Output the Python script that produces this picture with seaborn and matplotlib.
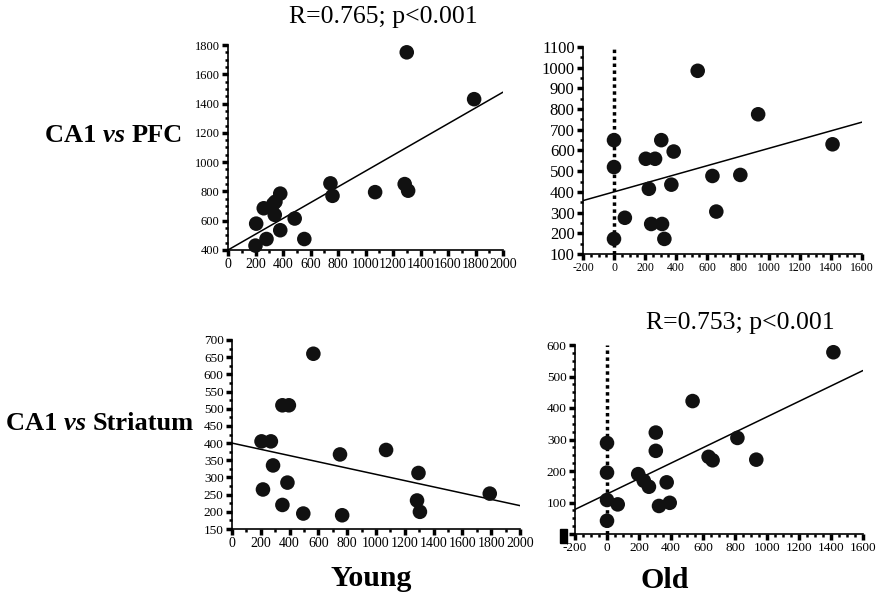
import numpy as np
import pandas as pd
import matplotlib
matplotlib.use("Agg")
import matplotlib.pyplot as plt
from matplotlib.ticker import MultipleLocator
from matplotlib.patches import Rectangle
import seaborn as sns

# CA1 vs PFC, young
young_pfc_x = [1300, 1790, 745, 760, 1070, 1285, 1310, 380, 345, 330, 260, 340,
               205, 485, 380, 280, 555, 200]
young_pfc_y = [1750, 1430, 855, 770, 795, 850, 805, 785, 730, 715, 685, 640,
               580, 615, 535, 475, 475, 430]
young_pfc_line_x = [0, 2000]
young_pfc_line_y = [400, 1478]

# CA1 vs PFC, old
old_pfc_x = [540, 930, 1410, 0, 0, 0, 70, 305, 385, 205, 265, 225, 370, 635,
             815, 660, 240, 310, 325]
old_pfc_y = [985, 775, 630, 650, 520, 173, 275, 650, 595, 560, 560, 415, 435,
             477, 482, 305, 245, 245, 173]
old_pfc_line_x = [-200, 1600]
old_pfc_line_y = [358, 737]

# CA1 vs Striatum, young
young_str_x = [565, 350, 395, 205, 270, 285, 215, 385, 350, 495, 750, 765,
               1070, 1295, 1285, 1305, 1790]
young_str_y = [660, 510, 510, 405, 405, 335, 265, 285, 220, 195, 367, 190,
               380, 313, 233, 200, 253]
young_str_line_x = [0, 2000]
young_str_line_y = [400, 218]

# CA1 vs Striatum, old
old_str_x = [1415, 535, 305, 305, 815, 0, 0, 0, 0, 67, 195, 230, 262, 373,
             325, 392, 635, 660, 933]
old_str_y = [577, 422, 322, 264, 305, 289, 195, 108, 42, 94, 190, 169, 150,
             164, 89, 99, 245, 234, 236]
old_str_line_x = [-200, 1600]
old_str_line_y = [78, 519]

sns.set_style("ticks", {"axes.edgecolor": "black", "text.color": "black",
                        "xtick.color": "black", "ytick.color": "black"})
plt.rcParams["font.family"] = ["Liberation Serif", "DejaVu Serif"]
plt.rcParams["axes.unicode_minus"] = False

W, H = 882, 596
fig = plt.figure(figsize=(W / 100, H / 100), dpi=100)


def add_ax(left, right, top, bottom):
    return fig.add_axes([left / W, 1 - bottom / H, (right - left) / W, (bottom - top) / H])


def panel(ax, xs, ys, lx, ly, xlim, ylim, xmaj, xmin, ymaj, ymin, fs_x, fs_y, vline=False):
    df = pd.DataFrame({"x": xs, "y": ys})
    sns.lineplot(x=lx, y=ly, ax=ax, color="black", linewidth=1.1)
    if vline:
        ax.axvline(0, color="black", linestyle=(0, (1, 1)), linewidth=2.5, zorder=1)
    sns.scatterplot(data=df, x="x", y="y", ax=ax, s=110, color="#111111",
                    edgecolor="none", zorder=3, clip_on=False)
    ax.set_xlim(*xlim)
    ax.set_ylim(*ylim)
    ax.xaxis.set_major_locator(MultipleLocator(xmaj))
    ax.xaxis.set_minor_locator(MultipleLocator(xmin))
    ax.yaxis.set_major_locator(MultipleLocator(ymaj))
    ax.yaxis.set_minor_locator(MultipleLocator(ymin))
    sns.despine(ax=ax)
    ax.spines["left"].set_linewidth(1.2)
    ax.spines["bottom"].set_linewidth(1.2)
    ax.tick_params(which="major", direction="out", length=4, width=2.5, pad=2,
                   color="black", labelcolor="black")
    ax.tick_params(which="minor", direction="out", length=2.5, width=1.8, color="black")
    ax.tick_params(axis="x", labelsize=fs_x)
    ax.tick_params(axis="y", labelsize=fs_y)
    ax.set_xlabel("")
    ax.set_ylabel("")


ax1 = add_ax(228, 503, 45, 250)
panel(ax1, young_pfc_x, young_pfc_y, young_pfc_line_x, young_pfc_line_y,
      (0, 2000), (400, 1800), 200, 100, 200, 50, 10, 9)

ax2 = add_ax(583, 862, 47, 254)
panel(ax2, old_pfc_x, old_pfc_y, old_pfc_line_x, old_pfc_line_y,
      (-200, 1600), (100, 1100), 200, 50, 100, 50, 8.5, 12, vline=True)

ax3 = add_ax(232, 520, 340, 529)
panel(ax3, young_str_x, young_str_y, young_str_line_x, young_str_line_y,
      (0, 2000), (150, 700), 200, 100, 50, 25, 10, 9.5)

ax4 = add_ax(575, 863, 345, 534)
panel(ax4, old_str_x, old_str_y, old_str_line_x, old_str_line_y,
      (-200, 1600), (0, 600), 200, 50, 100, 25, 9.5, 9.5, vline=True)

# small black mark over the lower-left corner of the last panel
fig.patches.append(Rectangle((560 / W, 1 - 543 / H), 7 / W, 14 / H,
                             transform=fig.transFigure, color="black"))

fig.text(383 / W, 1 - 17 / H, "R=0.765; p<0.001", ha="center", va="center", fontsize=18.5)
fig.text(740 / W, 1 - 323 / H, "R=0.753; p<0.001", ha="center", va="center", fontsize=18.5)
fig.text(371 / W, 1 - 578 / H, "Young", ha="center", va="center", fontsize=21.5, fontweight="bold")
fig.text(665 / W, 1 - 580 / H, "Old", ha="center", va="center", fontsize=21.5, fontweight="bold")


def row_label(x_right, y, last):
    # draw "CA1 vs <last>" right-aligned, with "vs" in bold italic
    renderer = fig.canvas.get_renderer()
    parts = [(last, "normal"), ("vs ", "italic"), ("CA1 ", "normal")]
    x = x_right / W
    for txt, style in parts:
        t = fig.text(x, 1 - y / H, txt, ha="right", va="center", fontsize=19,
                     fontweight="bold", fontstyle=style)
        bb = t.get_window_extent(renderer)
        x -= bb.width / W


row_label(183, 135, "PFC")
row_label(194, 424, "Striatum")

fig.savefig("out.png", dpi=100)
